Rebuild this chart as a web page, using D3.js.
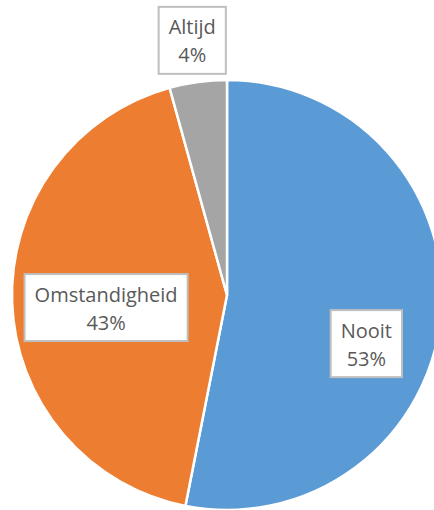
<!DOCTYPE html>
<html>
<head>
<meta charset="utf-8">
<script src="https://cdn.jsdelivr.net/npm/d3@7"></script>
<style>
  body { margin: 0; background: #fff; }
  svg { display: block; }
  .label text { font-family: "Open Sans", sans-serif; font-size: 20px; fill: #595959; }
</style>
</head>
<body>
<div class="content"></div>
<script>
// данные
var categories = ['Nooit', 'Omstandigheid', 'Altijd'];
var values = [53.1, 42.6, 4.3];
var percentLabels = ['53%', '43%', '4%'];

// цвета секторов
var colors = ['#5b9bd5', '#ed7d31', '#a5a5a5'];

// размеры картинки
var w = 434,
    h = 510;

var cx = 227, cy = 295, r = 215;

// как подписи отодвинуты от центра: радиус и сдвиг по вертикали
var labelPlace = {
    'Nooit': { radius: 140, dy: 35 },
    'Omstandigheid': { radius: 121, dy: 8 },
    'Altijd': { radius: 258, dy: 1 }
};

var svg = d3.select('.content').append('svg')
    .attr('width', w)
    .attr('height', h);

var g = svg.append('g')
    .attr('transform', 'translate(' + cx + ',' + cy + ')');

var pie = d3.pie()
    .sort(null)
    .value(function(d) { return d.value; });

var data = categories.map(function(c, i) {
    return { name: c, value: values[i], pct: percentLabels[i], color: colors[i] };
});

var arcs = pie(data);

var arc = d3.arc()
    .innerRadius(0)
    .outerRadius(r);

// секторы
g.selectAll('path')
    .data(arcs)
    .enter()
    .append('path')
    .attr('d', arc)
    .attr('fill', function(d) { return d.data.color; })
    .attr('stroke', '#fff')
    .attr('stroke-width', 2.5)
    .attr('stroke-linejoin', 'round');

// подписи в рамках
var label = g.selectAll('g.label')
    .data(arcs)
    .enter()
    .append('g')
    .attr('class', 'label')
    .attr('transform', function(d) {
        var p = labelPlace[d.data.name];
        var c = d3.arc().innerRadius(p.radius).outerRadius(p.radius).centroid(d);
        return 'translate(' + c[0] + ',' + (c[1] + p.dy) + ')';
    });

label.append('rect')
    .attr('fill', '#fff')
    .attr('stroke', '#bfbfbf')
    .attr('stroke-width', 2);

label.append('text')
    .attr('text-anchor', 'middle')
    .attr('y', -6)
    .text(function(d) { return d.data.name; });

label.append('text')
    .attr('text-anchor', 'middle')
    .attr('y', 22)
    .text(function(d) { return d.data.pct; });

// размер рамки по тексту
label.each(function() {
    var grp = d3.select(this);
    var tw = 0;
    grp.selectAll('text').each(function() { tw = Math.max(tw, this.getComputedTextLength()); });
    var bw = tw + 20, bh = 67;
    grp.select('rect')
        .attr('x', -bw / 2)
        .attr('y', -bh / 2)
        .attr('width', bw)
        .attr('height', bh);
});
</script>
</body>
</html>
